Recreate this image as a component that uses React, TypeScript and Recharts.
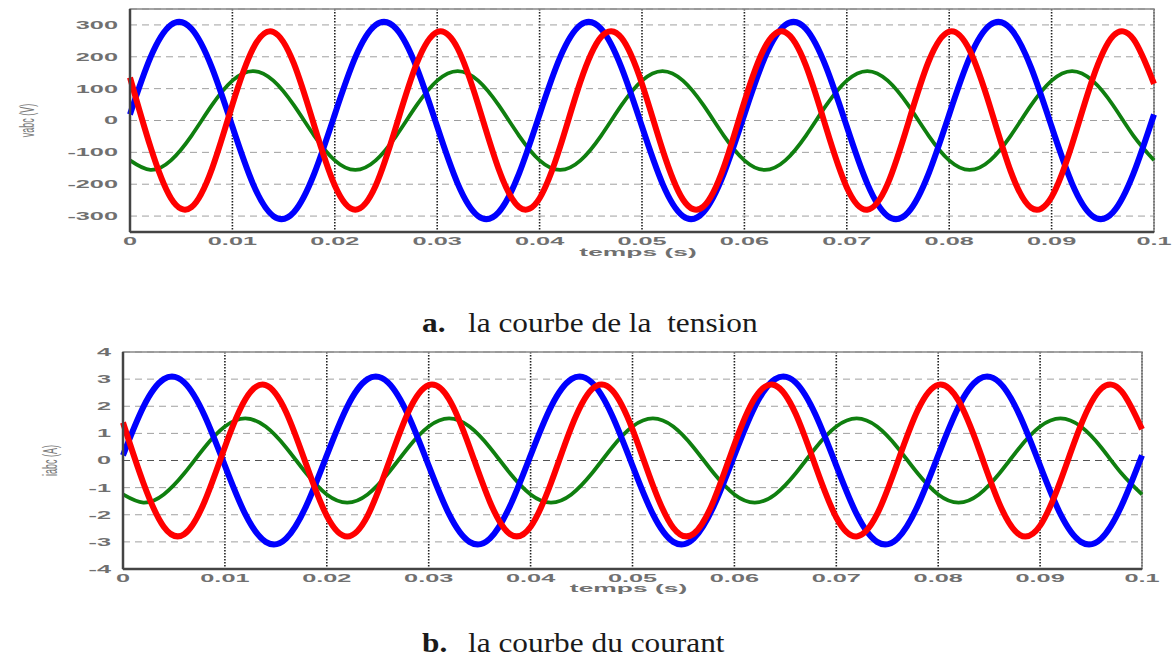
import React from 'react';
import { LineChart, Line, XAxis, YAxis, CartesianGrid, ReferenceArea, ReferenceLine, Label } from 'recharts';

// time samples (s)
const timeS = [
  0, 0.002, 0.004, 0.006, 0.008, 0.01, 0.012, 0.014, 0.016, 0.018,
  0.02, 0.022, 0.024, 0.026, 0.028, 0.03, 0.032, 0.034, 0.036, 0.038,
  0.04, 0.042, 0.044, 0.046, 0.048, 0.05, 0.052, 0.054, 0.056, 0.058,
  0.06, 0.062, 0.064, 0.066, 0.068, 0.07, 0.072, 0.074, 0.076, 0.078,
  0.08, 0.082, 0.084, 0.086, 0.088, 0.09, 0.092, 0.094, 0.096, 0.098,
  0.1,
];

// voltages (V)
const voltA = [
  19, 198, 300, 288, 166, -19, -198, -300, -288, -166,
  19, 198, 300, 288, 166, -19, -198, -300, -288, -166,
  19, 198, 300, 288, 166, -19, -198, -300, -288, -166,
  19, 198, 300, 288, 166, -19, -198, -300, -288, -166,
  19, 198, 300, 288, 166, -19, -198, -300, -288, -166,
  19,
];
const voltB = [
  135, -83, -244, -272, -152, 50, 225, 278, 179, -17,
  -204, -280, -204, -17, 179, 278, 226, 50, -152, -272,
  -244, -83, 123, 262, 259, 115, -91, -248, -270, -145,
  59, 230, 277, 173, -25, -210, -280, -198, -8, 186,
  279, 220, 42, -159, -274, -240, -75, 130, 265, 255,
  115,
];
const voltC = [
  -125, -155, -125, -48, 48, 125, 155, 125, 48, -48,
  -125, -155, -125, -48, 48, 125, 155, 125, 48, -48,
  -125, -155, -125, -48, 48, 125, 155, 125, 48, -48,
  -125, -155, -125, -48, 48, 125, 155, 125, 48, -48,
  -125, -155, -125, -48, 48, 125, 155, 125, 48, -48,
  -125,
];

// currents (A)
const currA = [
  0.19, 1.98, 3.0, 2.88, 1.66, -0.19, -1.98, -3.0, -2.88, -1.66,
  0.19, 1.98, 3.0, 2.88, 1.66, -0.19, -1.98, -3.0, -2.88, -1.66,
  0.19, 1.98, 3.0, 2.88, 1.66, -0.19, -1.98, -3.0, -2.88, -1.66,
  0.19, 1.98, 3.0, 2.88, 1.66, -0.19, -1.98, -3.0, -2.88, -1.66,
  0.19, 1.98, 3.0, 2.88, 1.66, -0.19, -1.98, -3.0, -2.88, -1.66,
  0.19,
];
const currB = [
  1.4, -0.83, -2.44, -2.72, -1.52, 0.5, 2.25, 2.78, 1.79, -0.17,
  -2.04, -2.8, -2.04, -0.17, 1.79, 2.78, 2.26, 0.5, -1.52, -2.72,
  -2.44, -0.83, 1.23, 2.62, 2.59, 1.15, -0.91, -2.48, -2.7, -1.45,
  0.59, 2.3, 2.77, 1.73, -0.25, -2.1, -2.8, -1.98, -0.08, 1.86,
  2.79, 2.2, 0.42, -1.59, -2.74, -2.4, -0.75, 1.3, 2.65, 2.55,
  1.15,
];
const currC = [
  -1.25, -1.55, -1.25, -0.48, 0.48, 1.25, 1.55, 1.25, 0.48, -0.48,
  -1.25, -1.55, -1.25, -0.48, 0.48, 1.25, 1.55, 1.25, 0.48, -0.48,
  -1.25, -1.55, -1.25, -0.48, 0.48, 1.25, 1.55, 1.25, 0.48, -0.48,
  -1.25, -1.55, -1.25, -0.48, 0.48, 1.25, 1.55, 1.25, 0.48, -0.48,
  -1.25, -1.55, -1.25, -0.48, 0.48, 1.25, 1.55, 1.25, 0.48, -0.48,
  -1.25,
];

const xTicks = [0, 0.01, 0.02, 0.03, 0.04, 0.05, 0.06, 0.07, 0.08, 0.09, 0.1];
const xTickLabels = ['0', '0.01', '0.02', '0.03', '0.04', '0.05', '0.06', '0.07', '0.08', '0.09', '0.1'];
const voltTicks = [-300, -200, -100, 0, 100, 200, 300];
const voltDomain = [-350, 350];
const currTicks = [-4, -3, -2, -1, 0, 1, 2, 3, 4];
const currDomain = [-4, 4];

const voltRows = timeS.map((t, i) => ({ t, a: voltA[i], b: voltB[i], c: voltC[i] }));
const currRows = timeS.map((t, i) => ({ t, a: currA[i], b: currB[i], c: currC[i] }));

const AX_FONT = '"Liberation Sans", Arial, sans-serif';
const SX = 2.3;

function XTick(props: any) {
  const { x, y, payload } = props;
  const idx = xTicks.indexOf(payload.value);
  return (
    <g transform={`translate(${x},${y + 1}) scale(${SX},1)`}>
      <text
        x={0}
        y={0}
        textAnchor="middle"
        dominantBaseline="central"
        fontFamily={AX_FONT}
        fontWeight={700}
        fontSize={11}
        fill="#707070"
      >
        {idx >= 0 ? xTickLabels[idx] : String(payload.value)}
      </text>
    </g>
  );
}

function YTick(props: any) {
  const { x, y, payload } = props;
  return (
    <g transform={`translate(${x - 4},${y}) scale(${SX},1)`}>
      <text
        x={0}
        y={0}
        textAnchor="end"
        dominantBaseline="central"
        fontFamily={AX_FONT}
        fontWeight={700}
        fontSize={11}
        fill="#707070"
      >
        {String(payload.value)}
      </text>
    </g>
  );
}

function makeXTitle(dy: number) {
  return (props: any) => {
    const vb = props.viewBox || {};
    const cx = vb.x + vb.width / 2 - 4;
    const cy = vb.y + dy;
    return (
      <g transform={`translate(${cx},${cy}) scale(${SX + 0.1},1)`}>
        <text
          x={0}
          y={0}
          textAnchor="middle"
          dominantBaseline="central"
          fontFamily={AX_FONT}
          fontWeight={700}
          fontSize={11}
          fill="#707070"
        >
          temps (s)
        </text>
      </g>
    );
  };
}

function makeYTitle(text: string, cx: number) {
  return (props: any) => {
    const vb = props.viewBox || {};
    const cy = vb.y + vb.height / 2;
    return (
      <text
        transform={`translate(${cx},${cy}) scale(2.2,1) rotate(-90)`}
        textAnchor="middle"
        dominantBaseline="central"
        fontFamily={AX_FONT}
        fontSize={9}
        fill="#7a7a7a"
      >
        {text}
      </text>
    );
  };
}

type PanelProps = {
  rows: any[];
  height: number;
  margin: { top: number; right: number; bottom: number; left: number };
  yWidth: number;
  xHeight: number;
  yDomain: number[];
  yTicks: number[];
  yTitle: string;
  yTitleX: number;
  xTitleDy: number;
  zeroLine: boolean;
};

function Panel(p: PanelProps) {
  return (
    <LineChart width={1174} height={p.height} data={p.rows} margin={p.margin}>
      <CartesianGrid horizontal={false} stroke="#222" strokeWidth={1.6} strokeDasharray="1.5 1.5" />
      <CartesianGrid vertical={false} stroke="#a0a0a0" strokeWidth={1} strokeDasharray="7 5" />
      <ReferenceArea
        x1={xTicks[0]}
        x2={xTicks[xTicks.length - 1]}
        y1={p.yDomain[0]}
        y2={p.yDomain[1]}
        fill="none"
        stroke="#888"
        strokeWidth={1.5}
      />
      {p.zeroLine ? <ReferenceLine y={0} stroke="#555" strokeWidth={1.2} strokeDasharray="7 5" /> : null}
      <XAxis
        dataKey="t"
        type="number"
        domain={[xTicks[0], xTicks[xTicks.length - 1]]}
        ticks={xTicks}
        interval={0}
        height={p.xHeight}
        tickLine={false}
        axisLine={{ stroke: '#444', strokeWidth: 2.5 }}
        tick={<XTick />}
        allowDecimals
      >
        <Label content={makeXTitle(p.xTitleDy)} />
      </XAxis>
      <YAxis
        type="number"
        domain={p.yDomain}
        ticks={p.yTicks}
        interval={0}
        width={p.yWidth}
        tickLine={false}
        axisLine={{ stroke: '#444', strokeWidth: 2.5 }}
        tick={<YTick />}
      >
        <Label content={makeYTitle(p.yTitle, p.yTitleX)} />
      </YAxis>
      <Line dataKey="c" type="natural" stroke="#0f7f0f" strokeWidth={3.8} dot={false} isAnimationActive={false} />
      <Line dataKey="a" type="natural" stroke="#0000ff" strokeWidth={6} dot={false} isAnimationActive={false} />
      <Line dataKey="b" type="natural" stroke="#ff0000" strokeWidth={6} dot={false} isAnimationActive={false} />
    </LineChart>
  );
}

const captionFont = '"Liberation Serif", "Times New Roman", serif';

function Caption({ top, tag, text }: { top: number; tag: string; text: string }) {
  const common: React.CSSProperties = {
    position: 'absolute',
    top,
    fontFamily: captionFont,
    fontSize: 27,
    lineHeight: '27px',
    color: '#1a1a1a',
    whiteSpace: 'pre',
    transform: 'scaleX(1.16)',
    transformOrigin: 'left center',
  };
  return (
    <>
      <div style={{ ...common, left: 422, fontWeight: 700 }}>{tag}</div>
      <div style={{ ...common, left: 468 }}>{text}</div>
    </>
  );
}

export default function App() {
  return (
    <div style={{ position: 'absolute', left: 0, top: 0, width: 1174, height: 662, background: '#fff', overflow: 'hidden' }}>
      <div style={{ position: 'absolute', left: 0, top: 0 }}>
        <Panel
          rows={voltRows}
          height={262}
          margin={{ top: 9, right: 20, bottom: 0, left: 0 }}
          yWidth={130}
          xHeight={30}
          yDomain={voltDomain}
          yTicks={voltTicks}
          yTitle="vabc (V)"
          yTitleX={27}
          xTitleDy={20}
          zeroLine={false}
        />
      </div>
      <div style={{ position: 'absolute', left: 0, top: 340 }}>
        <Panel
          rows={currRows}
          height={260}
          margin={{ top: 12, right: 32, bottom: 0, left: 0 }}
          yWidth={123}
          xHeight={31}
          yDomain={currDomain}
          yTicks={currTicks}
          yTitle="iabc (A)"
          yTitleX={50}
          xTitleDy={19}
          zeroLine={true}
        />
      </div>
      <Caption top={310} tag="a." text="la courbe de la  tension" />
      <Caption top={630} tag="b." text="la courbe du courant" />
    </div>
  );
}
